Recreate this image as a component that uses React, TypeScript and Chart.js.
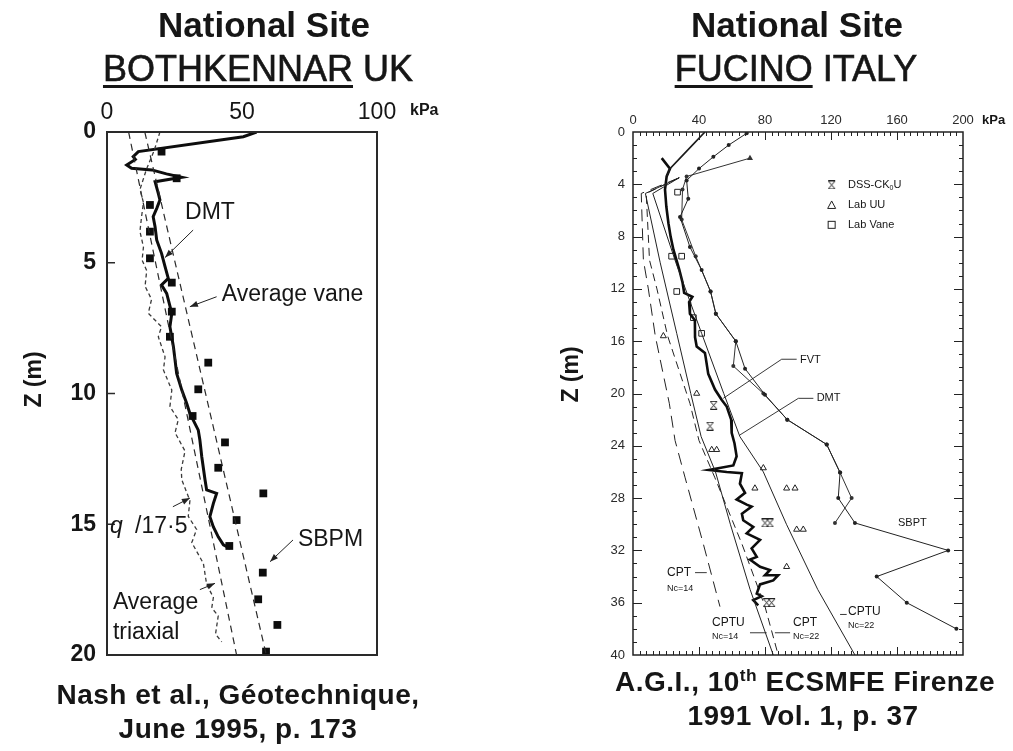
import React, { useEffect, useRef } from "react";
import { Chart, registerables } from "chart.js";

Chart.register(...registerables);

const FONT = '"Liberation Sans", Arial, Helvetica, sans-serif';
const INK = "#161616";

// ================= BOTHKENNAR (left) — points are [kPa, depth m] =================
const bothXTicks = [0, 50, 100];
const bothYTicks = [0, 5, 10, 15, 20];

const bothDmt: [number, number][] = [
  [55.4, 0], [50.5, 0.18], [11.6, 0.75], [9.7, 0.94], [10.5, 1.05], [7.3, 1.26], [9.1, 1.39],
  [16.6, 1.45], [22, 1.6], [27.7, 1.73], [17.8, 1.9], [19, 2.35], [19.6, 2.6], [18.5, 2.9],
  [17.1, 3.24], [17.8, 3.62], [18.4, 4.13], [20.2, 4.64], [21.5, 5.15], [22.7, 5.6], [20.2, 5.85],
  [22.1, 6.17], [24, 6.93], [23.3, 7.45], [24.6, 8.21], [25.8, 9.23], [27.7, 9.87], [29.5, 10.37],
  [30.7, 10.76], [33.8, 11.4], [34.4, 11.78], [35.1, 12.42], [36.3, 13.3], [36.9, 13.69],
  [40.6, 13.82], [39.4, 14.2], [38.1, 14.71], [39.4, 15.1], [41.2, 15.48], [43.1, 15.79], [45.6, 15.92],
];

const bothSbpm: [number, number][] = [
  [20.2, 0.75], [25.8, 1.77], [15.9, 2.79], [15.9, 3.81], [15.9, 4.83], [24, 5.76], [24, 6.87],
  [23.3, 7.83], [37.5, 8.82], [33.8, 9.84], [31.7, 10.86], [43.7, 11.87], [41.2, 12.84],
  [57.9, 13.82], [48, 14.84], [45.3, 15.83], [57.7, 16.85], [56, 17.87], [63.1, 18.85], [58.9, 19.87],
];

const bothQc: [number, number][] = [
  [19.6, 0], [17.5, 0.7], [14.7, 1.4], [12.2, 2.2], [13.5, 2.7], [12.8, 3.24], [12.2, 3.8],
  [13.5, 4.4], [13, 4.9], [14.7, 5.3], [14.1, 5.9], [16.5, 6.4], [15.3, 6.93], [20.2, 7.45],
  [19, 7.83], [21.5, 8.6], [20.9, 9.1], [24, 9.87], [23.3, 10.5], [26.4, 11.0], [25.2, 11.5],
  [28.9, 12.2], [27.5, 12.9], [27.7, 13.3], [30.7, 14.1], [30.1, 14.7], [33.2, 15.2], [31.4, 15.7],
  [35.7, 16.5], [36.9, 17.3], [39.4, 17.8], [38.8, 18.2], [41.2, 18.5], [40.2, 19.2], [42.5, 19.5],
];

const bothVane: [number, number][] = [[14, 0], [59, 20]];
const bothTriaxial: [number, number][] = [[8, 0], [48, 20]];

// ================= FUCINO (right) — points are [kPa, depth m] =================
const fucXTicks = [0, 40, 80, 120, 160, 200];
const fucYTicks = [0, 4, 8, 12, 16, 20, 24, 28, 32, 36, 40];

const fucTop: [number, number][] = [[43.6, 0], [36, 1], [28.5, 2], [22.4, 2.8], [20.4, 3.4]];

const fucDmt: [number, number][] = [
  [17.4, 2.0], [22.4, 2.8], [20.4, 3.4], [19.4, 4.4], [20.2, 5.7], [21.5, 7.0], [22.8, 8.0],
  [24.5, 9.0], [28, 10.5], [30, 11.5], [31, 12.3], [36, 12.6], [34, 13.0], [34.5, 13.9],
  [37.5, 14.4], [37.6, 15.7], [38.6, 16.4], [43.6, 16.9], [44, 17.2], [45.6, 18.5], [49.7, 19.7],
  [53.8, 20.5], [56.8, 21.0], [59.5, 22.0], [59.8, 23.0], [61.5, 23.8], [62.8, 24.8], [60.8, 25.5],
  [46, 25.85], [56.8, 26.0], [66, 26.1], [64.8, 26.9], [67.9, 27.6], [62.8, 28.1], [68.9, 28.5],
  [71.9, 28.65], [66, 29.2], [66.8, 29.7], [72.9, 30.2], [68.9, 30.7], [77, 31.2], [71.9, 31.85],
  [75, 32.5], [70.9, 32.7], [77, 33.25], [83, 33.5], [80, 33.9], [88, 33.9], [85, 34.3],
  [77, 34.6], [75, 35.3], [78, 35.5], [72.9, 35.8], [75.9, 36.2],
];

const fucSbpt1: [number, number][] = [
  [68.9, 0.1], [58, 1.0], [48.7, 1.9], [40, 2.8], [32.5, 3.7], [33.5, 5.1], [28.5, 6.5],
  [34.5, 8.8], [41.6, 10.55], [47, 12.2], [50.2, 13.9], [62.3, 16.0], [67.9, 18.1], [80, 20.1],
  [93.5, 22.0], [117.4, 23.9], [125.5, 26.05], [124.4, 28.0], [134.5, 29.9], [191, 32.0],
  [147.7, 34.0], [165.9, 36.0], [196, 38.0],
];
const fucSbpt2: [number, number][] = [
  [70.9, 2.0], [32.5, 3.4], [30, 4.4], [29.5, 6.7], [38, 9.5], [47, 12.2], [50.2, 13.9],
  [62.3, 16.0], [60.8, 17.9], [79, 20.0], [93.5, 22.0], [117.4, 23.9], [125.5, 26.05],
  [132.5, 28.0], [122.4, 29.9],
];

const fucCpt14: [number, number][] = [
  [28, 3.5], [5, 4.7], [6.3, 9.8], [9.3, 12], [13.5, 15.6], [22, 20.75], [25.5, 23.6],
  [31.5, 26.4], [42.6, 31.5], [52.7, 36.3],
];
const fucCpt22: [number, number][] = [
  [28, 3.5], [8, 4.7], [10, 9.8], [14.5, 12], [21, 15.6], [34.5, 20.75], [40, 23.6],
  [49.5, 26.4], [66, 31.5], [80, 36.3], [88, 40],
];
const fucCptu14: [number, number][] = [
  [28, 3.5], [7.5, 4.7], [16.5, 10], [26.5, 15.4], [35, 20], [41.3, 23.3], [50, 26],
  [59, 30], [71, 35], [85, 40],
];
const fucCptu22: [number, number][] = [
  [28, 3.5], [12, 4.7], [26, 10], [41.6, 15.4], [55, 20], [64.8, 23.3], [79, 26],
  [93, 30], [112, 35], [134.5, 40],
];

const fucLabVane: [number, number][] = [
  [27, 4.6], [23.4, 9.5], [29.5, 9.5], [26.5, 12.2], [36.6, 14.2], [41.6, 15.4],
];
const fucLabUU: [number, number][] = [
  [18.4, 15.6], [38.6, 20.0], [47.7, 24.3], [50.7, 24.3], [79, 25.7], [73.9, 27.25],
  [93.1, 27.25], [98.2, 27.25], [99.2, 30.4], [103.2, 30.4], [93.1, 33.25],
];
const fucDss: [number, number][] = [
  [48.9, 20.9], [46.7, 22.5], [80, 29.9], [83, 29.9], [81, 36.0], [84, 36.0],
];

// ================= annotations (in data units) =================
type Note = { t: string; x: number; y: number; size: number; italic?: boolean };
const bothNotes: Note[] = [
  { t: "DMT", x: 28.9, y: 3.1, size: 23 },
  { t: "Average vane", x: 42.5, y: 6.23, size: 23 },
  { t: "SBPM", x: 70.7, y: 15.6, size: 23 },
  { t: "q", x: 1.1, y: 15.1, size: 23, italic: true },
  { t: "/17·5", x: 10.4, y: 15.1, size: 23 },
  { t: "Average", x: 2.2, y: 18.0, size: 23 },
  { t: "triaxial", x: 2.2, y: 19.16, size: 23 },
];
const bothLeaders: [number, number][][] = [
  [[31.9, 3.75], [21.5, 4.8]],
  [[40.6, 6.3], [30.7, 6.68]],
  [[68.9, 15.6], [60.4, 16.43]],
  [[24.4, 14.33], [30.7, 14.0]],
  [[34.4, 17.5], [40, 17.26]],
];

const fucNotes: Note[] = [
  { t: "FVT", x: 101.2, y: 17.44, size: 11 },
  { t: "DMT", x: 111.3, y: 20.34, size: 11 },
  { t: "SBPT", x: 160.6, y: 29.9, size: 11 },
  { t: "CPT", x: 20.6, y: 33.7, size: 12 },
  { t: "Nc=14", x: 20.6, y: 34.9, size: 9 },
  { t: "CPTU", x: 47.9, y: 37.55, size: 12 },
  { t: "Nc=14", x: 47.9, y: 38.6, size: 9 },
  { t: "CPT", x: 97, y: 37.55, size: 12 },
  { t: "Nc=22", x: 97, y: 38.6, size: 9 },
  { t: "CPTU", x: 130.3, y: 36.7, size: 12 },
  { t: "Nc=22", x: 130.3, y: 37.75, size: 9 },
];
const fucLeaders: [number, number][][] = [
  [[54.7, 20.37], [90.1, 17.38], [99.2, 17.38]],
  [[64.8, 23.17], [100.2, 20.37], [109.3, 20.37]],
  [[37.6, 33.7], [44.7, 33.7]],
  [[70.9, 38.3], [81, 38.3]],
  [[86, 38.3], [95.2, 38.3]],
  [[125.5, 36.9], [129.5, 36.9]],
];
const fucLegend = [
  { sym: "dss", label: "DSS-CK", sub: "0", tail: "U", x: 120.4, tx: 130.3, y: 4.05 },
  { sym: "tri", label: "Lab UU", sub: "", tail: "", x: 120.4, tx: 130.3, y: 5.58 },
  { sym: "sq", label: "Lab Vane", sub: "", tail: "", x: 120.4, tx: 130.3, y: 7.1 },
];

const pts = (a: [number, number][]) => a.map(([x, y]) => ({ x, y }));

function hourglass(): HTMLCanvasElement {
  const s = 9;
  const c = document.createElement("canvas");
  c.width = s;
  c.height = s;
  const g = c.getContext("2d")!;
  g.strokeStyle = "#222";
  g.lineWidth = 1;
  g.beginPath();
  g.moveTo(1, 0.5); g.lineTo(s - 1, 0.5);
  g.moveTo(1, s - 0.5); g.lineTo(s - 1, s - 0.5);
  g.moveTo(1.5, 1); g.lineTo(s - 1.5, s - 1);
  g.moveTo(s - 1.5, 1); g.lineTo(1.5, s - 1);
  g.stroke();
  return c;
}

function px(chart: any, v: number, z: number): [number, number] {
  return [chart.scales.x.getPixelForValue(v), chart.scales.y.getPixelForValue(z)];
}

function drawLeaders(chart: any, list: [number, number][][], arrow: boolean, lw: number) {
  const ctx = chart.ctx as CanvasRenderingContext2D;
  ctx.save();
  ctx.strokeStyle = "#222";
  ctx.fillStyle = "#222";
  ctx.lineWidth = lw;
  for (const l of list) {
    const P = l.map(([v, z]) => px(chart, v, z));
    ctx.beginPath();
    ctx.moveTo(P[0][0], P[0][1]);
    for (let i = 1; i < P.length; i++) ctx.lineTo(P[i][0], P[i][1]);
    ctx.stroke();
    if (arrow) {
      const [x1, y1] = P[P.length - 2];
      const [x2, y2] = P[P.length - 1];
      const a = Math.atan2(y2 - y1, x2 - x1);
      const L = 8, W = 3;
      ctx.beginPath();
      ctx.moveTo(x2, y2);
      ctx.lineTo(x2 - L * Math.cos(a) + W * Math.sin(a), y2 - L * Math.sin(a) - W * Math.cos(a));
      ctx.lineTo(x2 - L * Math.cos(a) - W * Math.sin(a), y2 - L * Math.sin(a) + W * Math.cos(a));
      ctx.closePath();
      ctx.fill();
    }
  }
  ctx.restore();
}

function drawNotes(chart: any, notes: Note[]) {
  const ctx = chart.ctx as CanvasRenderingContext2D;
  ctx.save();
  ctx.fillStyle = INK;
  ctx.textBaseline = "middle";
  ctx.textAlign = "left";
  for (const n of notes) {
    const [x, y] = px(chart, n.x, n.y);
    ctx.font = `${n.italic ? "italic " : ""}${n.size}px ${FONT}`;
    ctx.fillText(n.t, x, y);
  }
  ctx.restore();
}

function drawAxisTitle(chart: any, cx: number, cy: number) {
  const ctx = chart.ctx as CanvasRenderingContext2D;
  ctx.save();
  ctx.translate(cx, cy);
  ctx.rotate(-Math.PI / 2);
  ctx.textAlign = "center";
  ctx.textBaseline = "middle";
  ctx.fillStyle = INK;
  ctx.font = `bold 23px ${FONT}`;
  ctx.fillText("Z (m)", 0, 0);
  ctx.restore();
}

const bothPlugin = {
  id: "bothDecor",
  afterDraw(chart: any) {
    const ctx = chart.ctx as CanvasRenderingContext2D;
    const a = chart.chartArea;
    ctx.save();
    ctx.strokeStyle = "#2a2a2a";
    ctx.lineWidth = 2;
    ctx.strokeRect(a.left, a.top, a.right - a.left, a.bottom - a.top);
    ctx.lineWidth = 1.5;
    for (const z of bothYTicks) {
      if (z === 0 || z === 20) continue;
      const y = chart.scales.y.getPixelForValue(z);
      ctx.beginPath();
      ctx.moveTo(a.left, y);
      ctx.lineTo(a.left + 8, y);
      ctx.stroke();
    }
    ctx.fillStyle = INK;
    ctx.font = `bold 16px ${FONT}`;
    ctx.textBaseline = "middle";
    ctx.fillText("kPa", a.right + 33, a.top - 21);
    ctx.restore();
    drawAxisTitle(chart, a.left - 72, (a.top + a.bottom) / 2 - 14);
    drawLeaders(chart, bothLeaders, true, 1);
    drawNotes(chart, bothNotes);
  },
};

const fucPlugin = {
  id: "fucDecor",
  afterDraw(chart: any) {
    const ctx = chart.ctx as CanvasRenderingContext2D;
    const a = chart.chartArea;
    const xs = chart.scales.x;
    const ys = chart.scales.y;
    ctx.save();
    ctx.strokeStyle = "#222";
    ctx.lineWidth = 1.5;
    ctx.strokeRect(a.left, a.top, a.right - a.left, a.bottom - a.top);
    ctx.lineWidth = 1;
    ctx.beginPath();
    for (let v = 4; v < 200; v += 4) {
      const x = Math.round(xs.getPixelForValue(v)) + 0.5;
      const L = v % 40 === 0 ? 8 : 4;
      ctx.moveTo(x, a.top); ctx.lineTo(x, a.top + L);
      ctx.moveTo(x, a.bottom); ctx.lineTo(x, a.bottom - L);
    }
    for (let z = 1; z < 40; z += 1) {
      const y = Math.round(ys.getPixelForValue(z)) + 0.5;
      const L = z % 4 === 0 ? 9 : 4;
      ctx.moveTo(a.left, y); ctx.lineTo(a.left + L, y);
      ctx.moveTo(a.right, y); ctx.lineTo(a.right - L, y);
    }
    ctx.stroke();

    // legend
    const hg = hourglass();
    ctx.font = `11px ${FONT}`;
    ctx.textBaseline = "middle";
    ctx.fillStyle = INK;
    for (const it of fucLegend) {
      const [sx, sy] = px(chart, it.x, it.y);
      const [tx] = px(chart, it.tx, it.y);
      ctx.strokeStyle = "#222";
      ctx.lineWidth = 1;
      if (it.sym === "dss") ctx.drawImage(hg, sx - 4.5, sy - 4.5);
      if (it.sym === "tri") {
        ctx.beginPath();
        ctx.moveTo(sx, sy - 4); ctx.lineTo(sx + 4, sy + 3.5); ctx.lineTo(sx - 4, sy + 3.5);
        ctx.closePath(); ctx.stroke();
      }
      if (it.sym === "sq") ctx.strokeRect(sx - 3.5, sy - 3.5, 7, 7);
      ctx.font = `11px ${FONT}`;
      ctx.fillText(it.label, tx, sy);
      let w = ctx.measureText(it.label).width;
      if (it.sub) {
        ctx.font = `7px ${FONT}`;
        ctx.fillText(it.sub, tx + w, sy + 3);
        w += ctx.measureText(it.sub).width;
        ctx.font = `11px ${FONT}`;
        ctx.fillText(it.tail, tx + w, sy);
      }
    }
    ctx.font = `bold 13px ${FONT}`;
    ctx.fillText("kPa", a.right + 19, a.top - 12);
    ctx.restore();
    drawAxisTitle(chart, a.left - 61, (a.top + a.bottom) / 2 - 19);
    drawLeaders(chart, fucLeaders, false, 0.9);
    drawNotes(chart, fucNotes);
  },
};

function lineDs(data: [number, number][], width: number, dash: number[] = [], color = INK) {
  return {
    data: pts(data),
    showLine: true,
    borderColor: color,
    borderWidth: width,
    borderDash: dash,
    pointRadius: 0,
    fill: false,
  };
}

function xScale(ticks: number[], max: number, size: number, pad: number, color: string) {
  return {
    type: "linear",
    position: "top",
    min: 0,
    max,
    afterBuildTicks: (s: any) => { s.ticks = ticks.map((value) => ({ value })); },
    afterFit: (s: any) => { s.height = 40; },
    grid: { display: false, drawTicks: false },
    border: { display: false },
    ticks: { padding: pad, color, autoSkip: false, maxRotation: 0, font: { family: FONT, size } },
  };
}

function yScale(ticks: number[], max: number, size: number, bold: boolean, pad: number, width: number, color: string) {
  return {
    type: "linear",
    position: "left",
    reverse: true,
    min: 0,
    max,
    afterBuildTicks: (s: any) => { s.ticks = ticks.map((value) => ({ value })); },
    afterFit: (s: any) => { s.width = width; },
    grid: { display: false, drawTicks: false },
    border: { display: false },
    ticks: { padding: pad, color, autoSkip: false, font: { family: FONT, size, weight: bold ? "bold" : "normal" } },
    title: { display: false },
  };
}

export default function App() {
  const leftRef = useRef<HTMLCanvasElement>(null);
  const rightRef = useRef<HTMLCanvasElement>(null);

  useEffect(() => {
    const common = {
      responsive: false,
      animation: false,
      devicePixelRatio: 1,
      events: [],
      plugins: { legend: { display: false }, tooltip: { enabled: false } },
    };

    const left = new Chart(leftRef.current!, {
      type: "scatter",
      data: {
        datasets: [
          lineDs(bothQc, 1.3, [4, 3], "#3a3a3a"),
          lineDs(bothTriaxial, 1.2, [7, 5], "#2a2a2a"),
          lineDs(bothVane, 1.2, [7, 5], "#2a2a2a"),
          lineDs(bothDmt, 3, [], "#0d0d0d"),
          {
            data: pts(bothSbpm),
            showLine: false,
            pointStyle: "rect",
            pointRadius: 5.5,
            backgroundColor: "#0d0d0d",
            borderColor: "#0d0d0d",
            borderWidth: 0,
          },
        ],
      },
      options: {
        ...common,
        layout: { padding: { left: 22, top: 92, right: 636, bottom: 96 } },
        scales: {
          x: xScale(bothXTicks, 100, 23, 6, INK),
          y: yScale(bothYTicks, 20, 23, true, 11, 85, INK),
        },
      } as any,
      plugins: [bothPlugin],
    });

    const hg = hourglass();
    const right = new Chart(rightRef.current!, {
      type: "scatter",
      data: {
        datasets: [
          lineDs(fucCpt14, 1, [12, 7], "#222"),
          lineDs(fucCpt22, 1, [8, 5], "#222"),
          lineDs(fucCptu14, 1, [], "#222"),
          lineDs(fucCptu22, 1, [], "#222"),
          { ...lineDs(fucSbpt1, 1, [], "#222"), pointRadius: 2, pointBackgroundColor: "#222", pointBorderWidth: 0 },
          {
            ...lineDs(fucSbpt2, 1, [], "#333"),
            pointRadius: (c: any) => (c.dataIndex === 0 ? 3.5 : 2),
            pointStyle: (c: any) => (c.dataIndex === 0 ? "triangle" : "circle"),
            pointBackgroundColor: "#333",
            pointBorderWidth: 0,
          },
          lineDs(fucTop, 1.6, [], "#1a1a1a"),
          lineDs(fucDmt, 2.6, [], "#0d0d0d"),
          {
            data: pts(fucLabVane),
            showLine: false,
            pointStyle: "rect",
            pointRadius: 4,
            backgroundColor: "rgba(255,255,255,0.9)",
            borderColor: "#222",
            borderWidth: 1,
          },
          {
            data: pts(fucLabUU),
            showLine: false,
            pointStyle: "triangle",
            pointRadius: 3.5,
            backgroundColor: "rgba(255,255,255,0.9)",
            borderColor: "#222",
            borderWidth: 1,
          },
          {
            data: pts(fucDss),
            showLine: false,
            pointStyle: hg,
            pointRadius: 4,
          },
        ],
      },
      options: {
        ...common,
        layout: { padding: { left: 559, top: 92, right: 50, bottom: 96 } },
        scales: {
          x: xScale(fucXTicks, 200, 13, 4, "#2a2a2a"),
          y: yScale(fucYTicks, 40, 13, false, 8, 74, "#2a2a2a"),
        },
      } as any,
      plugins: [fucPlugin],
    });

    return () => {
      left.destroy();
      right.destroy();
    };
  }, []);

  const abs = (x: number, top: number, size: number, weight: number | string, extra: any = {}) => ({
    position: "absolute" as const,
    left: x,
    top,
    transform: "translateX(-50%)",
    whiteSpace: "nowrap" as const,
    fontSize: size,
    fontWeight: weight,
    lineHeight: 1,
    fontFamily: FONT,
    color: INK,
    ...extra,
  });
  const ul = { textDecoration: "underline", textDecorationThickness: "3px", textUnderlineOffset: "4px" };

  return (
    <div style={{ position: "absolute", left: 0, top: 0, width: 1013, height: 751, background: "#fff", overflow: "hidden" }}>
      <canvas ref={leftRef} width={1013} height={751} style={{ position: "absolute", left: 0, top: 0 }} />
      <canvas ref={rightRef} width={1013} height={751} style={{ position: "absolute", left: 0, top: 0 }} />

      <div style={abs(264, 7, 35, "bold")}>National Site</div>
      <div style={abs(258, 51, 36, "normal", { WebkitTextStroke: "0.6px #161616" })}>
        <span style={ul}>BOTHKENNAR</span> UK
      </div>
      <div style={abs(797, 7, 35, "bold")}>National Site</div>
      <div style={abs(796, 51, 36, "normal", { WebkitTextStroke: "0.6px #161616" })}>
        <span style={ul}>FUCINO</span> ITALY
      </div>

      <div style={abs(238, 681, 28, "bold", { letterSpacing: "0.5px" })}>Nash et al., Géotechnique,</div>
      <div style={abs(238, 715, 28, "bold", { letterSpacing: "0.5px" })}>June 1995, p. 173</div>
      <div style={abs(805, 668, 28, "bold", { letterSpacing: "0.5px" })}>
        A.G.I., 10<span style={{ fontSize: "62%", verticalAlign: "super", lineHeight: 0 }}>th</span> ECSMFE Firenze
      </div>
      <div style={abs(803, 702, 28, "bold", { letterSpacing: "0.5px" })}>1991 Vol. 1, p. 37</div>
    </div>
  );
}
